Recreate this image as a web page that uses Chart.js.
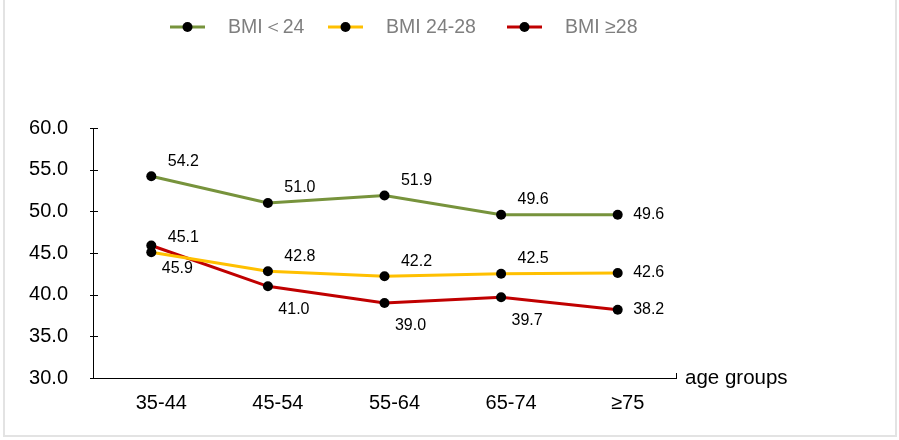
<!DOCTYPE html>
<html>
<head>
<meta charset="utf-8">
<script src="https://cdn.jsdelivr.net/npm/chart.js@4.4.1/dist/chart.umd.min.js"></script>
<style>
  body { margin: 0; background: #fff; }
  #wrap { position: relative; width: 899px; height: 440px; }
  #frame { position: absolute; left: 3px; top: -2px; width: 890px; height: 437px;
           border: 2px solid #e3e3e3; border-top: none; }
  canvas { position: absolute; left: 0; top: 0; }
</style>
</head>
<body>
<div id="wrap">
  <div id="frame"></div>
  <canvas id="chart" width="899" height="440"></canvas>
</div>
<script>
// age groups on the x axis
const ageGroups = ["35-44", "45-54", "55-64", "65-74", "≥75"];

// series values
const bmiUnder24 = [54.2, 51.0, 51.9, 49.6, 49.6];
const bmi24to28 = [45.1, 42.8, 42.2, 42.5, 42.6];
const bmiOver28 = [45.9, 41.0, 39.0, 39.7, 38.2];

const seriesNames = ["BMI＜24", "BMI 24-28", "BMI ≥28"];
const seriesColors = ["#77933C", "#FFC000", "#C00000"];

const font = "'Liberation Sans', Arial, sans-serif";

// value labels: green/yellow above, red below, last point to the right
const labelPlugin = {
  id: "valueLabels",
  afterDatasetsDraw(chart) {
    const ctx = chart.ctx;
    ctx.save();
    ctx.font = "16px " + font;
    ctx.fillStyle = "#000";
    ctx.textAlign = "center";
    ctx.textBaseline = "middle";
    chart.data.datasets.forEach((ds, di) => {
      const meta = chart.getDatasetMeta(di);
      meta.data.forEach((pt, i) => {
        let dx = 32, dy = -15;
        if (di === 2) { dx = 26; dy = 23; }
        if (i === ds.data.length - 1) { dx = 31; dy = 0; }
        ctx.fillText(ds.data[i].toFixed(1), pt.x + dx, pt.y + dy);
      });
    });
    ctx.restore();
  }
};

// legend drawn by hand: line with a dot, grey text
const legendPlugin = {
  id: "customLegend",
  afterDraw(chart) {
    const ctx = chart.ctx;
    const starts = [170, 328, 507];
    const y = 27;
    ctx.save();
    seriesNames.forEach((name, i) => {
      const x = starts[i];
      ctx.strokeStyle = seriesColors[i];
      ctx.lineWidth = 3;
      ctx.beginPath();
      ctx.moveTo(x, y);
      ctx.lineTo(x + 35, y);
      ctx.stroke();
      ctx.fillStyle = "#000";
      ctx.beginPath();
      ctx.arc(x + 17.5, y, 5, 0, Math.PI * 2);
      ctx.fill();
      ctx.fillStyle = "#7f7f7f";
      ctx.font = "19.5px " + font;
      ctx.textAlign = "left";
      ctx.textBaseline = "middle";
      ctx.fillText(name, x + 58, y + 1);
    });
    const area = chart.chartArea;
    // axis title at the end of x axis
    ctx.fillStyle = "#000";
    ctx.font = "20.5px " + font;
    ctx.fillText("age groups", area.right + 9, area.bottom);
    // small ticks: y ticks crossing the axis, end tick on x axis
    ctx.strokeStyle = "#000";
    ctx.lineWidth = 1;
    ctx.beginPath();
    const ys = chart.scales.y;
    ys.ticks.forEach((t, i) => {
      const py = Math.round(ys.getPixelForTick(i)) + 0.5;
      ctx.moveTo(area.left - 3, py);
      ctx.lineTo(area.left + 5, py);
    });
    ctx.moveTo(area.right + 0.5, area.bottom);
    ctx.lineTo(area.right + 0.5, area.bottom - 5);
    ctx.stroke();
    ctx.restore();
  }
};

const datasets = [bmiUnder24, bmi24to28, bmiOver28].map((vals, i) => ({
  label: seriesNames[i],
  data: vals,
  borderColor: seriesColors[i],
  borderWidth: 3,
  pointRadius: 5,
  pointBackgroundColor: "#000",
  pointBorderColor: "#000",
  pointBorderWidth: 0,
  tension: 0
}));

new Chart(document.getElementById("chart"), {
  type: "line",
  data: { labels: ageGroups, datasets: datasets },
  options: {
    responsive: false,
    animation: false,
    layout: { padding: { top: 128, right: 223, left: 0, bottom: 0 } },
    plugins: { legend: { display: false }, tooltip: { enabled: false } },
    scales: {
      x: {
        offset: true,
        grid: { display: false, drawTicks: false },
        border: { display: true, color: "#000", width: 1 },
        ticks: { color: "#000", font: { size: 20, family: font }, padding: 13, labelOffset: 10, maxRotation: 0 },
        afterFit(scale) { scale.height = 62; }
      },
      y: {
        min: 30,
        max: 60,
        grid: { display: false, drawTicks: false },
        border: { display: true, color: "#000", width: 1 },
        ticks: {
          stepSize: 5,
          color: "#000",
          font: { size: 20, family: font },
          padding: 25,
          callback: v => v.toFixed(1)
        },
        afterFit(scale) { scale.width = 93; }
      }
    }
  },
  plugins: [labelPlugin, legendPlugin]
});
</script>
</body>
</html>
